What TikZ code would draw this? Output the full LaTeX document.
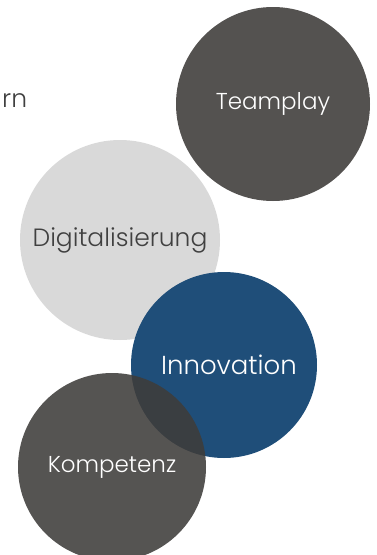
\documentclass[tikz,border=0pt]{standalone}
\usepackage{fontspec}
\setmainfont{Poppins Light}
\usetikzlibrary{positioning}
\definecolor{teamgray}{RGB}{84,82,80}
\definecolor{digigray}{RGB}{217,217,217}
\definecolor{innoblue}{RGB}{31,78,121}
\definecolor{kompgray}{RGB}{62,60,58}
\definecolor{textgray}{RGB}{64,64,64}

\begin{document}
\begin{tikzpicture}[x=1pt, y=-1pt,
    bubble/.style={circle, inner sep=0pt, align=center, text=white, font=\fontsize{23}{27}\selectfont},
    bigbubble/.style={bubble, font=\fontsize{25}{29}\selectfont}
]
\clip (0,0) rectangle (377,555);

\node[anchor=base west, inner sep=0pt, text=textgray, font=\fontsize{25}{29}\selectfont] (head) at (2,107) {rn};

\node[bigbubble, fill=digigray, minimum size=200pt, text=textgray] (digi) at (120,240) {Digitalisierung};
\node[bubble, fill=teamgray, minimum size=194pt] (team) at (273,104) {Teamplay};
\node[bigbubble, fill=innoblue, minimum size=186pt, font=\fontsize{26}{30}\selectfont] (inno) at (224,365) {\hspace*{10pt}Innovation};
\node[bubble, fill=kompgray, fill opacity=0.88, text opacity=1, minimum size=188pt] (komp) at (112,467) {Kompetenz};

\end{tikzpicture}
\end{document}
